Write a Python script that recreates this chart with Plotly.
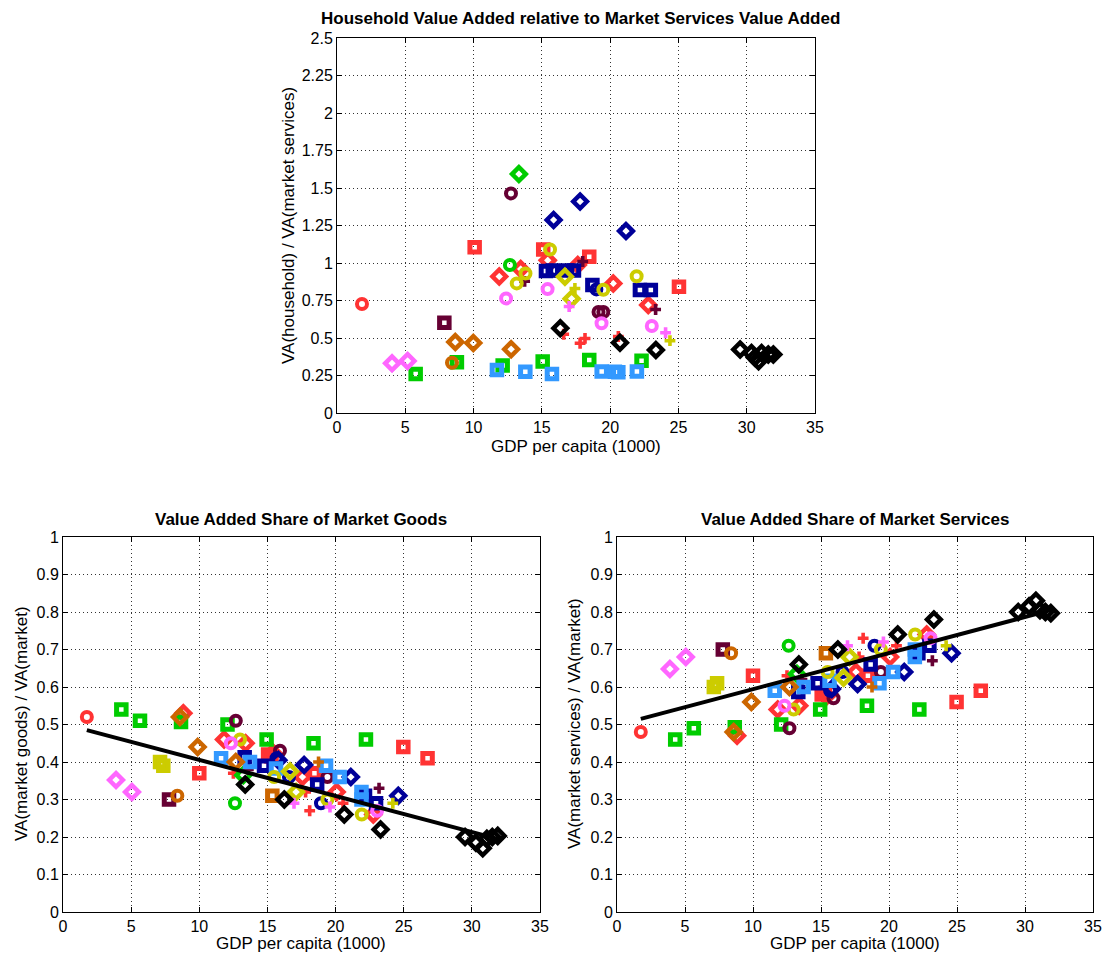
import plotly.graph_objects as go

# ---------------- data ----------------
# country groups (colour + marker identify a country)
group_ids = ["g01", "g02", "g03", "g04", "g05", "g06", "g07", "g08", "g09", "g10", "g11", "g12", "g13",
             "g14", "g15", "g16", "g17", "g18", "g19", "g20", "g21", "g22", "g23", "g24", "g25", "g26"]

# Top panel: household VA / market services VA
top_country = ["g01",
               "g02", "g02", "g02", "g02",
               "g03", "g03", "g03", "g03", "g03", "g03",
               "g04", "g04", "g04", "g04",
               "g05",
               "g06", "g06", "g06", "g06", "g06", "g06",
               "g07",
               "g08", "g08", "g08", "g08",
               "g09",
               "g10", "g10", "g10",
               "g11",
               "g12", "g12", "g12", "g12", "g12", "g12", "g12",
               "g13", "g13", "g13",
               "g14", "g14", "g14", "g14", "g14", "g14", "g14",
               "g15", "g15", "g15", "g15", "g15",
               "g16", "g16",
               "g18", "g18",
               "g19", "g19", "g19", "g19",
               "g20", "g20",
               "g21", "g21",
               "g22",
               "g23", "g23", "g23",
               "g26", "g26", "g26", "g26", "g26", "g26", "g26", "g26", "g26", "g26"]
top_gdp = [1.83,
           10.08, 15.1, 18.47, 25.04,
           11.88, 13.45, 15.43, 17.63, 20.23, 22.79,
           16.6, 17.8, 18.16, 20.6,
           12.66,
           5.76, 8.78, 12.13, 15.06, 18.47, 22.3,
           13.32,
           12.74, 16.03, 19.15, 19.5,
           7.86,
           13.74, 17.99, 23.33,
           18.99,
           15.3, 15.8, 16.84, 17.35, 18.7, 22.18, 22.98,
           15.86, 17.8, 21.16,
           11.71, 13.79, 15.74, 19.38, 20.35, 20.6, 21.96,
           13.16, 13.8, 15.6, 19.5, 21.94,
           16.69, 17.18,
           17.42, 24.38,
           12.38, 15.42, 19.37, 23.05,
           4.03, 5.17,
           17.0, 24.06,
           8.42,
           8.66, 9.98, 12.75,
           16.35, 20.72, 23.35, 29.52, 30.35, 30.6, 30.87, 31.09, 31.58, 31.95]
top_ratio = [0.727,
             1.105, 1.09, 1.042, 0.842,
             0.91, 0.96, 1.018, 0.987, 0.864, 0.72,
             0.525, 0.465, 0.497, 0.51,
             0.987,
             0.26, 0.338, 0.316, 0.344, 0.353, 0.349,
             1.593,
             1.464, 0.948, 0.673, 0.673,
             0.602,
             0.878, 1.01, 0.69,
             0.824,
             0.946, 0.95, 0.95, 0.95, 0.853, 0.82, 0.82,
             1.287, 1.41, 1.213,
             0.287, 0.275, 0.26, 0.276, 0.275, 0.272, 0.276,
             0.864, 0.93, 1.09, 0.822, 0.912,
             0.909, 0.762,
             0.83, 0.482,
             0.764, 0.826, 0.598, 0.58,
             0.331, 0.347,
             0.71, 0.535,
             0.335,
             0.473, 0.467, 0.425,
             0.565, 0.469, 0.42, 0.424, 0.40, 0.37, 0.345, 0.40, 0.39, 0.39]

# Bottom panels: value-added shares (same country-years in both panels)
share_country = ["g01",
                 "g02", "g02", "g02", "g02", "g02", "g02",
                 "g03", "g03", "g03", "g03", "g03", "g03", "g03",
                 "g04", "g04", "g04", "g04",
                 "g05",
                 "g06", "g06", "g06", "g06", "g06", "g06", "g06",
                 "g07",
                 "g08", "g08", "g08",
                 "g09",
                 "g10", "g10",
                 "g11", "g11", "g11",
                 "g12", "g12", "g12", "g12", "g12",
                 "g13", "g13", "g13", "g13",
                 "g14", "g14", "g14", "g14", "g14", "g14", "g14",
                 "g15", "g15", "g15", "g15",
                 "g16", "g16",
                 "g17", "g17",
                 "g18",
                 "g19", "g19",
                 "g20", "g20",
                 "g21", "g21",
                 "g22",
                 "g23", "g23", "g23",
                 "g24",
                 "g25",
                 "g26", "g26", "g26", "g26", "g26", "g26", "g26", "g26", "g26", "g26"]
share_gdp = [1.75,
             10.0, 15.05, 15.3, 18.45, 24.97, 26.75,
             8.83, 11.82, 13.4, 15.4, 17.57, 20.08, 22.77,
             12.5, 17.8, 18.1, 20.55,
             12.62,
             4.28, 5.65, 8.66, 12.07, 14.94, 18.38, 22.23,
             13.23,
             12.68, 15.92, 19.4,
             7.78,
             13.6, 23.19,
             15.67, 16.58, 18.93,
             13.33, 14.75, 18.65, 22.16, 22.97,
             15.8, 17.69, 21.12, 24.6,
             11.6, 13.72, 15.63, 19.3, 20.3, 21.9, 21.9,
             12.99, 15.49, 19.4, 21.92,
             16.66, 17.1,
             7.12, 7.36,
             24.2,
             12.32, 23.05,
             3.89, 5.06,
             16.95, 19.59,
             8.39,
             8.58, 9.88, 12.68,
             15.36,
             18.75,
             13.37, 16.24, 20.64, 23.3, 29.5, 30.3, 30.8, 31.1, 31.5, 31.9]
goods_share = [0.52,
               0.37, 0.42, 0.415, 0.37, 0.44, 0.41,
               0.53, 0.46, 0.45, 0.425, 0.36, 0.32, 0.26,
               0.37, 0.32, 0.27, 0.29,
               0.29,
               0.54, 0.51, 0.507, 0.50, 0.46, 0.45, 0.46,
               0.365,
               0.51, 0.43, 0.36,
               0.30,
               0.38, 0.33,
               0.41, 0.36, 0.29,
               0.413, 0.39, 0.34, 0.31, 0.29,
               0.405, 0.392, 0.36, 0.31,
               0.41, 0.40, 0.383, 0.39, 0.36, 0.32, 0.30,
               0.46, 0.36, 0.30, 0.26,
               0.375, 0.32,
               0.40, 0.39,
               0.29,
               0.45, 0.27,
               0.352, 0.32,
               0.29, 0.28,
               0.31,
               0.52, 0.44, 0.40,
               0.31,
               0.40,
               0.34, 0.30, 0.26, 0.22, 0.20, 0.185, 0.17, 0.195, 0.20, 0.203]
services_share = [0.48,
                  0.63, 0.58, 0.585, 0.63, 0.56, 0.59,
                  0.47, 0.54, 0.55, 0.575, 0.64, 0.68, 0.74,
                  0.63, 0.68, 0.73, 0.71,
                  0.71,
                  0.46, 0.49, 0.493, 0.50, 0.54, 0.55, 0.54,
                  0.635,
                  0.49, 0.57, 0.64,
                  0.70,
                  0.62, 0.67,
                  0.59, 0.64, 0.71,
                  0.587, 0.61, 0.66, 0.69, 0.71,
                  0.595, 0.608, 0.64, 0.69,
                  0.59, 0.60, 0.617, 0.61, 0.64, 0.68, 0.70,
                  0.54, 0.64, 0.70, 0.74,
                  0.625, 0.68,
                  0.60, 0.61,
                  0.71,
                  0.55, 0.73,
                  0.648, 0.68,
                  0.71, 0.72,
                  0.69,
                  0.48, 0.56, 0.60,
                  0.69,
                  0.60,
                  0.66, 0.70, 0.74, 0.78, 0.80, 0.815, 0.83, 0.805, 0.80, 0.797]

# fitted lines
fit_gdp = [1.75, 31.9]
fit_goods = [0.485, 0.195]
fit_services = [0.515, 0.805]

# axis ticks
gdp_ticks = [0, 5, 10, 15, 20, 25, 30, 35]
ratio_ticks = [0, 0.25, 0.5, 0.75, 1, 1.25, 1.5, 1.75, 2, 2.25, 2.5]
ratio_ticklabels = ["0", "0.25", "0.5", "0.75", "1", "1.25", "1.5", "1.75", "2", "2.25", "2.5"]
share_ticks = [0, 0.1, 0.2, 0.3, 0.4, 0.5, 0.6, 0.7, 0.8, 0.9, 1]
share_ticklabels = ["0", "0.1", "0.2", "0.3", "0.4", "0.5", "0.6", "0.7", "0.8", "0.9", "1"]

# ---------------- styles ----------------
RED, GREEN, MAROON, NAVY = "#FF3333", "#00CC00", "#660033", "#000099"
LBLUE, YELLOW, PINK, ORANGE, BLACK = "#3399FF", "#CCCC00", "#FF66FF", "#CC6600", "#000000"
group_style = {
    "g01": (RED, "circle"), "g02": (RED, "square"), "g03": (RED, "diamond"), "g04": (RED, "plus"),
    "g05": (GREEN, "circle"), "g06": (GREEN, "square"), "g07": (GREEN, "diamond"),
    "g08": (MAROON, "circle"), "g09": (MAROON, "square"), "g10": (MAROON, "plus"),
    "g11": (NAVY, "circle"), "g12": (NAVY, "square"), "g13": (NAVY, "diamond"),
    "g14": (LBLUE, "square"),
    "g15": (YELLOW, "circle"), "g16": (YELLOW, "diamond"), "g17": (YELLOW, "square"), "g18": (YELLOW, "plus"),
    "g19": (PINK, "circle"), "g20": (PINK, "diamond"), "g21": (PINK, "plus"),
    "g22": (ORANGE, "circle"), "g23": (ORANGE, "diamond"), "g24": (ORANGE, "square"), "g25": (ORANGE, "plus"),
    "g26": (BLACK, "diamond"),
}


def marker_for(color, shape):
    if shape == "circle":
        return dict(symbol="circle-open", size=10, color=color, line=dict(color=color, width=4))
    if shape == "square":
        return dict(symbol="square-open", size=9.5, color=color, line=dict(color=color, width=5))
    if shape == "diamond":
        return dict(symbol="diamond-open", size=10.5, color=color, line=dict(color=color, width=4.5))
    return dict(symbol="cross", size=9, color=color, line=dict(width=0))


fig = go.Figure()


def add_points(countries, xs, ys, xa, ya):
    for g in group_ids:
        px = [x for c, x in zip(countries, xs) if c == g]
        py = [y for c, y in zip(countries, ys) if c == g]
        if not px:
            continue
        color, shape = group_style[g]
        fig.add_trace(go.Scatter(x=px, y=py, mode="markers", marker=marker_for(color, shape),
                                 xaxis=xa, yaxis=ya, showlegend=False, hoverinfo="x+y"))


add_points(top_country, top_gdp, top_ratio, "x", "y")
add_points(share_country, share_gdp, goods_share, "x2", "y2")
fig.add_trace(go.Scatter(x=fit_gdp, y=fit_goods, mode="lines", line=dict(color="black", width=4),
                         xaxis="x2", yaxis="y2", showlegend=False))
add_points(share_country, share_gdp, services_share, "x3", "y3")
fig.add_trace(go.Scatter(x=fit_gdp, y=fit_services, mode="lines", line=dict(color="black", width=4),
                         xaxis="x3", yaxis="y3", showlegend=False))

W, H = 1105, 958
FONT = "Liberation Sans, Arial, Helvetica, sans-serif"
TICK = 16
LABEL = 17
TITLE = 17


def xd(a, b):
    return [a / W, b / W]


def yd(top, bottom):
    return [1 - bottom / H, 1 - top / H]


common = dict(showline=True, linecolor="black", linewidth=1, mirror="allticks", ticks="inside",
              ticklen=5, tickcolor="black", showgrid=True, gridcolor="#333333", gridwidth=1,
              griddash="1px,3px", zeroline=False, automargin=False,
              tickfont=dict(family=FONT, size=TICK, color="black"))

fig.update_layout(
    width=W, height=H, margin=dict(l=0, r=0, t=0, b=0, pad=0, autoexpand=False),
    paper_bgcolor="white", plot_bgcolor="white", showlegend=False,
    font=dict(family=FONT, size=TICK, color="black"),
    xaxis=dict(domain=xd(337, 815), range=[0, 35], tickvals=gdp_ticks, anchor="y", **common),
    yaxis=dict(domain=yd(38, 413), range=[0, 2.5], tickvals=ratio_ticks, ticktext=ratio_ticklabels,
               anchor="x", **common),
    xaxis2=dict(domain=xd(63, 540), range=[0, 35], tickvals=gdp_ticks, anchor="y2", **common),
    yaxis2=dict(domain=yd(537, 912), range=[0, 1], tickvals=share_ticks, ticktext=share_ticklabels,
                anchor="x2", **common),
    xaxis3=dict(domain=xd(617, 1093), range=[0, 35], tickvals=gdp_ticks, anchor="y3", **common),
    yaxis3=dict(domain=yd(537, 912), range=[0, 1], tickvals=share_ticks, ticktext=share_ticklabels,
                anchor="x3", **common),
)

ann = []


def text(x, y, s, bold=False, angle=0, size=LABEL):
    ann.append(dict(x=x / W, y=1 - y / H, xref="paper", yref="paper",
                    text=("<b>%s</b>" % s) if bold else s,
                    showarrow=False, textangle=angle, font=dict(family=FONT, size=size, color="black"),
                    xanchor="center", yanchor="middle"))


text(580, 19, "Household Value Added relative to Market Services Value Added", bold=True, size=TITLE)
text(576, 446, "GDP per capita (1000)")
text(288, 226, "VA(household) / VA(market services)", angle=-90)
text(301, 519, "Value Added Share of Market Goods", bold=True, size=TITLE)
text(301, 943, "GDP per capita (1000)")
text(21, 724, "VA(market goods) / VA(market)", angle=-90)
text(855, 519, "Value Added Share of Market Services", bold=True, size=TITLE)
text(855, 943, "GDP per capita (1000)")
text(574, 724, "VA(market services) / VA(market)", angle=-90)
fig.update_layout(annotations=ann)

fig.write_html("out.html", config={"displayModeBar": False},
               post_script="document.body.style.margin='0';document.body.style.overflow='hidden';")
